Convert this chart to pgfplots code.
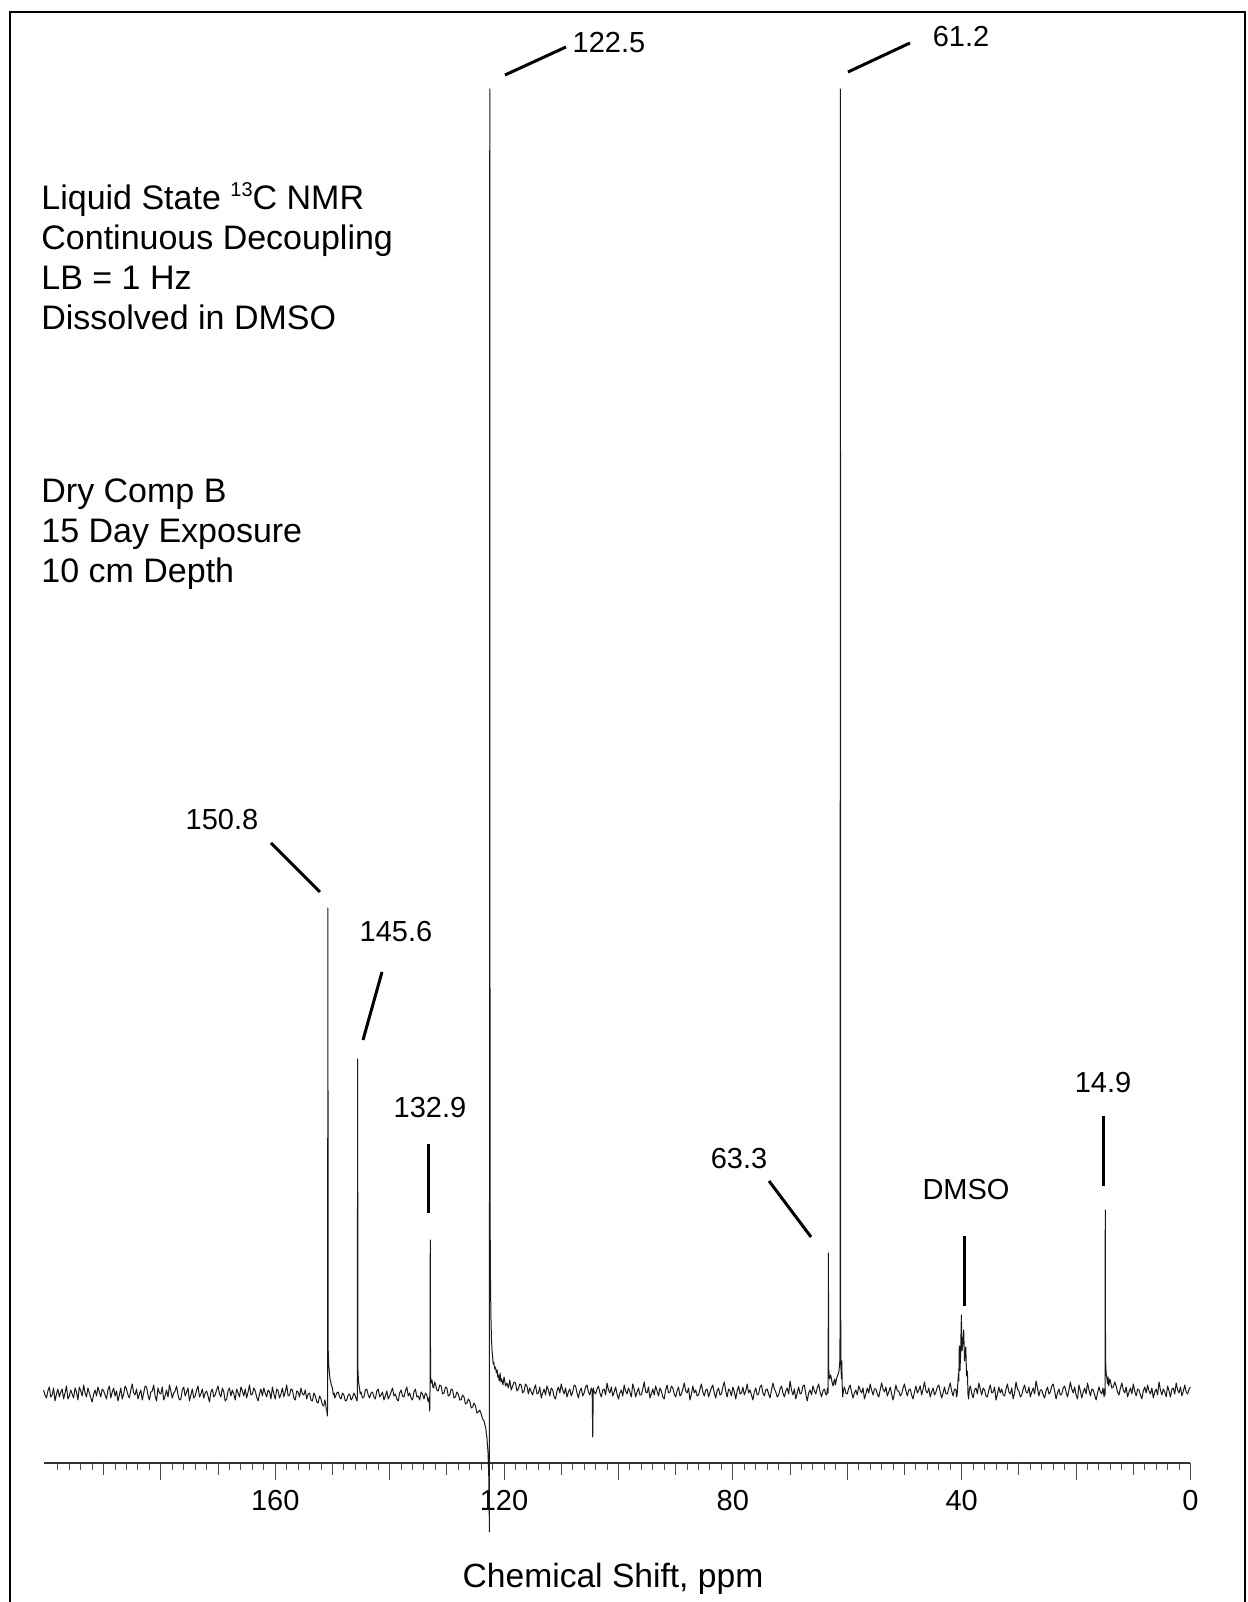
\documentclass[border=0pt]{standalone}
\usepackage{pgfplots}
\pgfplotsset{compat=1.18}
\usepackage{fontspec}
\setmainfont{Liberation Sans}
\begin{document}
\begin{tikzpicture}
\path[use as bounding box] (0pt,0pt) rectangle (624pt,801pt);
\begin{axis}[
  at={(21.8pt,69.5pt)}, anchor=south west,
  scale only axis, width=573.45pt, height=687pt,
  xmin=0, xmax=200.5, ymin=-72, ymax=1302,
  x dir=reverse,
  axis x line*=bottom, axis y line=none,
  clip=false,
  tick align=outside,
  xtick={0,20,...,180},
  xticklabels={0,,40,,80,,120,,160,},
  minor xtick={2,4,...,198},
  extra x ticks={10,30,...,190},
  extra x tick labels={},
  extra x tick style={major tick length=6pt},
  major tick length=8.5pt, minor tick length=3.5pt,
  tick style={black!70, line width=0.5pt},
  axis line style={black!80, line width=0.6pt},
  xticklabel style={font=\fontsize{14.5}{17}\selectfont, anchor=base},
  xticklabel shift=15.5pt,
  /pgf/number format/assume math mode=true,
]
\addplot[black!90, line width=0.5pt, mark=none, line join=round] coordinates {
(200.5,1)(200.25,-4)(200,-7)(199.75,0)(199.5,4)(199.25,-6)(199,-4)(198.75,3)(198.5,-10)(198.25,-3)
(198,2)(197.75,-6)(197.5,-1)(197.25,2)(197,-8)(196.75,-2)(196.5,5)(196.25,-8)(196,-5)(195.75,1)
(195.5,-3)(195.25,-7)(195,3)(194.75,-1)(194.5,-9)(194.25,4)(194,0)(193.75,-5)(193.5,6)(193.25,-2)
(193,-6)(192.75,3)(192.5,-2)(192.25,-7)(192,-11)(191.75,-3)(191.5,1)(191.25,-5)(191,4)(190.75,-1)
(190.5,-6)(190.25,2)(190,0)(189.75,-4)(189.5,-8)(189.25,1)(189,5)(188.75,-7)(188.5,-1)(188.25,3)
(188,-5)(187.75,0)(187.5,-10)(187.25,-4)(187,3)(186.75,-8)(186.5,-3)(186.25,5)(186,2)(185.75,-4)
(185.5,-7)(185.25,1)(185,7)(184.75,-2)(184.5,-4)(184.25,2)(184,-8)(183.75,-3)(183.5,1)(183.25,-9)
(183,-2)(182.75,5)(182.5,4)(182.25,-4)(182,-9)(181.75,-1)(181.5,0)(181.25,6)(181,-5)(180.75,-10)
(180.5,3)(180.25,-2)(180,-3)(179.75,4)(179.5,-9)(179.25,-5)(179,1)(178.75,-6)(178.5,6)(178.25,0)
(178,-7)(177.75,-2)(177.5,0)(177.25,5)(177,-4)(176.75,-9)(176.5,-8)(176.25,1)(176,4)(175.75,-5)
(175.5,-1)(175.25,3)(175,-10)(174.75,-4)(174.5,2)(174.25,-7)(174,-5)(173.75,1)(173.5,5)(173.25,-6)
(173,-3)(172.75,2)(172.5,-7)(172.25,-2)(172,0)(171.75,-5)(171.5,-11)(171.25,-1)(171,2)(170.75,-6)
(170.5,-4)(170.25,1)(170,5)(169.75,-3)(169.5,-6)(169.25,3)(169,-1)(168.75,-10)(168.5,-8)(168.25,0)
(168,3)(167.75,-5)(167.5,1)(167.25,-3)(167,-9)(166.75,2)(166.5,-2)(166.25,-6)(166,4)(165.75,0)
(165.5,-5)(165.25,2)(165,-7)(164.75,-1)(164.5,6)(164.25,-4)(164,-3)(163.75,3)(163.5,0)(163.25,-6)
(163,-10)(162.75,-3)(162.5,2)(162.25,-5)(162,3)(161.75,-2)(161.5,-6)(161.25,1)(161,-1)(160.75,-8)
(160.5,4)(160.25,-3)(160,-8)(159.75,2)(159.5,0)(159.25,-7)(159,-3)(158.75,3)(158.5,-6)(158.25,-1)
(158,6)(157.75,-5)(157.5,-4)(157.25,2)(157,1)(156.75,-7)(156.5,-9)(156.25,0)(156,-1)(155.75,-6)
(155.5,3)(155.25,-3)
(155,-4)(154.75,1)(154.5,-8)(154.25,-3)(154,-2)(153.75,-9)(153.5,-10)(153.25,-2)(153,-5)(152.75,-11)
(152.5,-12)(152.25,-5)(152,-8)(151.75,-14)(151.5,-15)(151.35,-9)(151.2,-12)(151.1,-18)(151,-19)(150.9,-25)
(150.85,-16)(150.8,483)(150.75,42)(150.65,26)(150.5,16)(150.4,11)(150.3,9)(150.15,5)(150,3)(149.85,-4)
(149.7,-2)(149.6,-7)(149.5,-6)(149.25,-2)(149,-1)(148.75,-6)(148.5,-8)(148.25,-2)(148,-4)(147.75,-10)
(147.5,-9)(147.25,-4)(147,-3)(146.75,-9)(146.5,-7)(146.25,-2)(146,-5)(145.85,-8)(145.7,-10)(145.65,-6)
(145.6,332)(145.55,22)(145.45,10)(145.3,4)(145.15,-3)(145,-1)(144.75,-7)(144.5,-6)(144.25,1)(144,2)
(143.75,-4)(143.5,-7)(143.25,-2)(143,-1)(142.75,-6)(142.5,-8)(142.25,0)(142,2)(141.75,-6)(141.5,-4)
(141.25,-1)(141,-9)(140.75,-5)(140.5,0)(140.25,-8)(140,-5)(139.75,-1)(139.5,3)(139.25,-5)(139,-3)
(138.75,-8)(138.5,-10)(138.25,-2)(138,1)(137.75,-5)(137.5,-6)(137.25,0)(137,4)(136.75,-5)(136.5,-2)
(136.25,-7)(136,-9)(135.75,-1)(135.5,2)(135.25,-6)(135,-5)(134.75,-9)(134.5,-1)(134.25,-3)(134,-8)
(133.75,-2)(133.5,-4)(133.35,-9)(133.2,-11)(133.1,-6)(133.0,-20)(132.95,-8)
(132.9,151)(132.85,16)(132.75,8)(132.6,11)(132.45,4)(132.3,3)(132.15,9)(132,7)(131.75,1)(131.5,0)
(131.25,6)(131,5)(130.75,-3)(130.5,-2)(130.25,4)(130,3)(129.75,-5)(129.5,-4)(129.25,2)(129,1)
(128.75,-7)(128.5,-6)(128.25,-1)(128,-3)(127.75,-9)(127.5,-9)(127.25,-4)(127,-6)(126.75,-13)(126.5,-12)
(126.25,-8)(126,-10)(125.75,-17)(125.5,-16)(125.25,-12)(125,-15)(124.75,-22)(124.5,-21)(124.25,-19)(124,-23)
(123.75,-28)(123.5,-30)(123.35,-34)(123.2,-37)(123.1,-43)(123,-46)(122.8,-62)(122.65,-90)(122.56,-141)(122.5,1302)
(122.45,210)(122.4,125)(122.3,75)(122.2,52)(122.1,40)(122,34)(121.9,27)(121.8,29)(121.65,22)(121.5,24)
(121.35,18)(121.2,21)(121.1,14)(121,16)(120.85,10)(120.7,18)(120.55,9)(120.4,12)(120.2,6)(120,14)
(119.75,5)(119.5,8)(119.25,3)(119,11)(118.75,1)(118.5,5)(118.25,9)(118,8)(117.75,0)(117.5,2)
(117.25,7)(117,6)(116.75,-2)(116.5,0)(116.25,7)(116,5)(115.75,-3)
(115.5,3)(115.25,-1)(115,-4)(114.75,2)(114.5,6)(114.25,-3)(114,-2)(113.75,4)(113.5,-7)(113.25,-2)
(113,2)(112.75,-4)(112.5,5)(112.25,1)(112,-5)(111.75,3)(111.5,1)(111.25,-6)(111,-8)(110.75,0)
(110.5,4)(110.25,-2)(110,7)(109.75,1)(109.5,-3)(109.25,3)(109,-6)(108.75,-1)(108.5,2)(108.25,-5)
(108,-1)(107.75,6)(107.5,5)(107.25,-2)(107,-7)(106.75,0)(106.5,3)(106.25,-5)(106,-2)(105.75,4)
(105.5,6)(105.25,-1)(105,-4)(104.75,3)(104.6,1)(104.5,-46)(104.4,3)(104.25,-1)
(104,-3)(103.75,2)(103.5,5)(103.25,-2)(103,-6)(102.75,1)(102.5,2)(102.25,-4)(102,8)(101.75,1)
(101.5,-2)(101.25,4)(101,-5)(100.75,-1)(100.5,4)(100.25,-3)(100,-8)(99.75,-2)(99.5,1)(99.25,-5)
(99,6)(98.75,0)(98.5,-3)(98.25,3)(98,-1)(97.75,-6)(97.5,7)(97.25,2)(97,-6)(96.75,-1)
(96.5,3)(96.25,-4)(96,-4)(95.75,2)(95.5,9)(95.25,-1)(95,-2)(94.75,4)(94.5,-7)(94.25,-3)
(94,2)(93.75,-4)(93.5,5)(93.25,0)(93,-5)(92.75,3)(92.5,0)(92.25,-6)(92,-8)(91.75,1)
(91.5,6)(91.25,-2)(91,-1)(90.75,5)(90.5,3)(90.25,-3)(90,-6)(89.75,0)(89.5,4)(89.25,-5)
(89,-3)(88.75,2)(88.5,8)(88.25,0)(88,-2)(87.75,3)(87.5,-9)(87.25,-3)(87,5)(86.75,-2)
(86.5,1)(86.25,-5)(86,-4)(85.75,2)(85.5,7)(85.25,-1)(85,-5)(84.75,1)(84.5,2)(84.25,-6)
(84,-1)(83.75,3)(83.5,6)(83.25,-2)(83,-7)(82.75,0)(82.5,3)(82.25,-4)(82,-3)(81.75,4)
(81.5,9)(81.25,0)(81,-6)(80.75,2)(80.5,0)(80.25,-5)(80,4)(79.75,-1)(79.5,-8)(79.25,0)
(79,5)(78.75,-3)(78.5,-2)(78.25,4)(78,-4)(77.75,0)(77.5,7)(77.25,-2)(77,1)(76.75,-4)
(76.5,-9)(76.25,-1)(76,3)(75.75,-4)(75.5,-3)(75.25,4)(75,6)(74.75,-2)(74.5,-5)(74.25,1)
(74,2)(73.75,-3)(73.5,-7)(73.25,1)(73,8)(72.75,2)(72.5,-1)(72.25,-6)(72,-4)(71.75,2)
(71.5,5)(71.25,-2)(71,-6)(70.75,0)(70.5,3)(70.25,-3)(70,10)(69.75,1)(69.5,-4)(69.25,2)
(69,-8)(68.75,-2)(68.5,4)(68.25,-3)(68,-2)(67.75,5)(67.5,6)(67.25,-3)(67,-10)(66.75,-2)
(66.5,1)(66.25,-4)(66,5)(65.75,0)(65.5,-3)(65.25,3)(65,7)(64.75,-1)(64.5,-6)(64.25,0)
(64,2)(63.8,-3)(63.6,-4)(63.5,2)(63.4,3)(63.35,-2)(63.3,138)(63.25,22)(63.1,12)(62.9,16)
(62.7,10)(62.5,5)(62.35,9)(62.2,12)(62.1,6)(62,8)(61.85,13)(61.7,15)(61.45,20)(61.3,30)
(61.25,70)(61.2,1302)(61.15,80)(61.1,22)(61.0,12)(60.95,30)(60.9,8)(60.8,-6)(60.65,1)
(60.5,4)(60.25,-2)(60,-3)(59.75,3)(59.5,6)(59.25,-1)(59,-7)(58.75,-2)(58.5,1)(58.25,-4)
(58,5)(57.75,1)(57.5,-2)(57.25,3)(57,-8)(56.75,-3)(56.5,3)(56.25,-2)(56,7)(55.75,1)
(55.5,-4)(55.25,2)(55,2)(54.75,-3)(54.5,-6)(54.25,1)(54,8)(53.75,2)(53.5,-1)(53.25,4)
(53,-5)(52.75,-1)(52.5,4)(52.25,-3)(52,-9)(51.75,-2)(51.5,6)(51.25,0)(51,0)(50.75,-5)
(50.5,-3)(50.25,3)(50,7)(49.75,0)(49.5,-5)(49.25,1)(49,2)(48.75,-4)(48.5,-8)(48.25,-1)
(48,5)(47.75,-2)(47.5,1)(47.25,5)(47,-4)(46.75,2)(46.5,9)(46.25,0)(46,-2)(45.75,3)
(45.5,-6)(45.25,-1)(45,3)(44.75,-4)(44.5,-1)(44.25,4)(44,6)(43.75,-1)(43.5,-7)(43.25,-2)
(43,4)(42.75,-3)(42.5,-3)(42.25,3)(42,8)(41.75,0)(41.5,-5)(41.25,2)(41,1)(40.9,-6)
(40.8,-4)(40.7,6)(40.55,18)(40.5,10)(40.42,45)(40.3,20)(40.2,35)(40.05,76)(39.95,40)(39.8,48)
(39.65,61)(39.5,30)(39.4,38)(39.28,44)(39.15,15)(39.0,20)(38.9,-3)(38.8,-8)(38.65,2)
(38.5,5)(38.25,-2)(38,-7)(37.75,1)(37.5,3)(37.25,-3)(37,8)(36.75,2)(36.5,-4)(36.25,3)
(36,1)(35.75,-5)(35.5,-6)(35.25,1)(35,6)(34.75,-2)(34.5,-1)(34.25,4)(34,-9)(33.75,-3)
(33.5,4)(33.25,-2)(33,2)(32.75,-4)(32.5,-5)(32.25,2)(32,7)(31.75,-1)(31.5,-3)(31.25,3)
(31,-8)(30.75,-2)(30.5,9)(30.25,2)(30,0)(29.75,-6)(29.5,-4)(29.25,2)(29,6)(28.75,-1)
(28.5,-2)(28.25,4)(28,-6)(27.75,-1)(27.5,3)(27.25,-3)(27,10)(26.75,3)(26.5,-5)(26.25,1)
(26,1)(25.75,-4)(25.5,-7)(25.25,0)(25,4)(24.75,-3)(24.5,-1)(24.25,5)(24,7)(23.75,0)
(23.5,-8)(23.25,-2)(23,2)(22.75,-4)(22.5,-3)(22.25,3)(22,5)(21.75,-1)(21.5,-6)(21.25,1)
(21,9)(20.75,2)(20.5,-2)(20.25,4)(20,-4)(19.75,-8)(19.5,6)(19.25,0)(19,-7)(18.75,-1)
(18.5,3)(18.25,-3)(18,8)(17.75,1)(17.5,-5)(17.25,2)(17,1)(16.75,-4)(16.5,-9)(16.25,-2)
(16,4)(15.75,-1)(15.5,-3)(15.3,3)
(15.1,-6)(15.0,2)(14.92,-4)(14.9,181)(14.85,32)(14.75,18)(14.6,12)(14.5,7)(14.4,14)(14.3,5)
(14.2,8)(14.1,12)(14,10)(13.75,3)(13.5,4)(13.25,9)
(13,5)(12.75,-1)(12.5,-4)(12.25,3)(12,8)(11.75,1)(11.5,-2)(11.25,4)(11,-6)(10.75,-1)
(10.5,3)(10.25,-3)(10,7)(9.75,0)(9.5,-5)(9.25,2)(9,1)(8.75,-4)(8.5,-8)(8.25,0)
(8,4)(7.75,-2)(7.5,6)(7.25,0)(7,-3)(6.75,3)(6.5,-7)(6.25,-1)(6,2)(5.75,-4)
(5.5,9)(5.25,1)(5,-4)(4.75,2)(4.5,-1)(4.25,-6)(4,5)(3.75,0)(3.5,-6)(3.25,2)
(3,3)(2.75,-3)(2.5,8)(2.25,1)(2,-2)(1.75,4)(1.5,-5)(1.25,0)(1,6)(0.75,-1)
(0.5,-3)(0.25,2)(0,4)
};
\end{axis}
\begin{scope}[shift={(0pt,801pt)}, x=0.5pt, y=-0.5pt]
\draw[line width=1pt] (10,1602) -- (10,12) -- (1245,12) -- (1245,1602);
% axis label
\node[anchor=base, inner sep=0pt, font=\fontsize{16.8}{20}\selectfont] at (613,1588) {Chemical Shift, ppm};
% text block
\begin{scope}[every node/.style={anchor=base west, inner sep=0pt, font=\fontsize{17}{20}\selectfont}]
\node at (41,210) {Liquid State \raisebox{0.75ex}{\fontsize{10}{10}\selectfont 13}C NMR};
\node at (41,250) {Continuous Decoupling};
\node at (41,290) {LB = 1 Hz};
\node at (41,330) {Dissolved in DMSO};
\node at (41,503) {Dry Comp B};
\node at (41,543) {15 Day Exposure};
\node at (41,583) {10 cm Depth};
\end{scope}
% peak labels
\begin{scope}[every node/.style={anchor=base, inner sep=0pt, font=\fontsize{14.5}{17}\selectfont}]
\node at (609,53) {122.5};
\node at (961,47) {61.2};
\node at (222,830) {150.8};
\node at (396,942) {145.6};
\node at (430,1118) {132.9};
\node at (739,1169) {63.3};
\node at (966,1200) {DMSO};
\node at (1103,1093) {14.9};
\end{scope}
% leader lines
\begin{scope}[line width=1.5pt]
\draw (505,75) -- (566,47);
\draw (848,72) -- (910,43);
\draw (271,843) -- (320,892);
\draw (382,972) -- (363,1040);
\draw (428,1144) -- (428,1213);
\draw (769,1181) -- (811,1237);
\draw (964,1236) -- (964,1306);
\draw (1103,1116) -- (1103,1186);
\end{scope}
\end{scope}
\end{tikzpicture}
\end{document}
